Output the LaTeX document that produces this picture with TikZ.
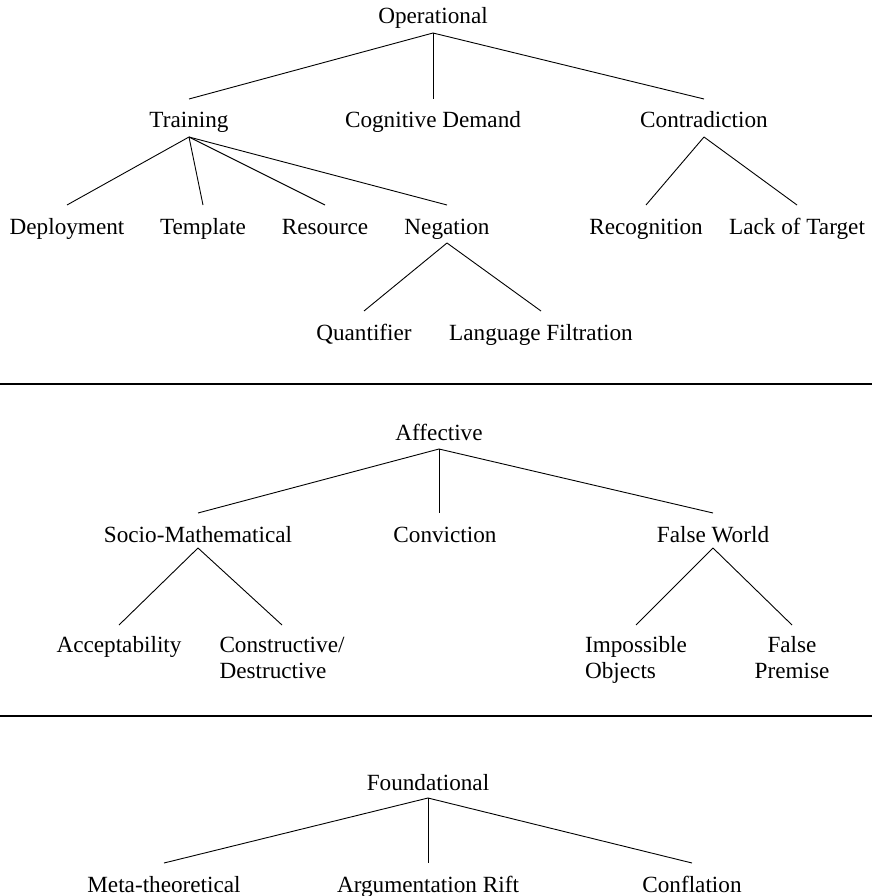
\documentclass[tikz,border=0pt]{standalone}
\usepackage{fontspec}
\setmainfont{Liberation Serif}
\begin{document}
\begin{tikzpicture}[x=1pt,y=-1pt,
  lbl/.style={font=\fontsize{23.2}{26}\selectfont, inner sep=0pt, anchor=base},
  branch/.style={line width=0.9pt},
  divider/.style={line width=1.6pt}]
\useasboundingbox (0,0) rectangle (872,896);
% ---------- Operational ----------
\node[lbl] (op)  at (433,24)  {Operational};
\node[lbl] (tr)  at (189,128) {Training};
\node[lbl] (cd)  at (433,128) {Cognitive Demand};
\node[lbl] (ct)  at (704,128) {Contradiction};
\node[lbl] (dep) at (67,234)  {Deployment};
\node[lbl] (tem) at (203,234) {Template};
\node[lbl] (res) at (325,234) {Resource};
\node[lbl] (neg) at (447,234) {Negation};
\node[lbl] (rec) at (646,234) {Recognition};
\node[lbl] (lot) at (797,234) {Lack of Target};
\node[lbl] (qua) at (364,340) {Quantifier};
\node[lbl] (lf)  at (541,340) {Language Filtration};
\foreach \c in {tr,cd,ct} \draw[branch] ([yshift=-9pt]op.base) -- ([yshift=29pt]\c.base);
\foreach \c in {dep,tem,res,neg} \draw[branch] ([yshift=-9pt]tr.base) -- ([yshift=29pt]\c.base);
\foreach \c in {rec,lot} \draw[branch] ([yshift=-9pt]ct.base) -- ([yshift=29pt]\c.base);
\foreach \c in {qua,lf} \draw[branch] ([yshift=-9pt]neg.base) -- ([yshift=29pt]\c.base);
\coordinate (r1l) at (0,384); \coordinate (r1r) at (872,384);
\draw[divider] (r1l) -- (r1r);
% ---------- Affective ----------
\node[lbl] (aff) at (439,440) {Affective};
\node[lbl] (soc) at (198,542) {Socio-Mathematical};
\node[lbl] (con) at (445,542) {Conviction};
\node[lbl] (fw)  at (713,542) {False World};
\node[lbl] (acc) at (119,652) {Acceptability};
% multi-line labels: base anchor = baseline of the second line (678)
\node[lbl,align=left]   (cde) at (282,678) {Constructive/\\Destructive};
\node[lbl,align=left]   (imp) at (636,678) {Impossible\\Objects};
\node[lbl,align=center] (fp)  at (792,678) {False\\Premise};
\draw[branch] ([yshift=-9pt]aff.base) -- ([yshift=29pt]soc.base);
\draw[branch] ([yshift=-9pt]aff.base) -- ([yshift=29pt]aff.base |- con.base);
\draw[branch] ([yshift=-9pt]aff.base) -- ([yshift=29pt]fw.base);
\draw[branch] ([yshift=-6pt]soc.base) -- ([yshift=27pt]acc.base);
\draw[branch] ([yshift=-6pt]soc.base) -- ([yshift=53pt]cde.base);
\foreach \c in {imp,fp} \draw[branch] ([yshift=-6pt]fw.base) -- ([yshift=53pt]\c.base);
\coordinate (r2l) at (0,716); \coordinate (r2r) at (872,716);
\draw[divider] (r2l) -- (r2r);
% ---------- Foundational ----------
\node[lbl] (fo)  at (428,790) {Foundational};
\node[lbl] (mt)  at (164,892) {Meta-theoretical};
\node[lbl] (ar)  at (428,892) {Argumentation Rift};
\node[lbl] (cf)  at (692,892) {Conflation};
\foreach \c in {mt,ar,cf} \draw[branch] ([yshift=-8pt]fo.base) -- ([yshift=29pt]\c.base);
\end{tikzpicture}
\end{document}
